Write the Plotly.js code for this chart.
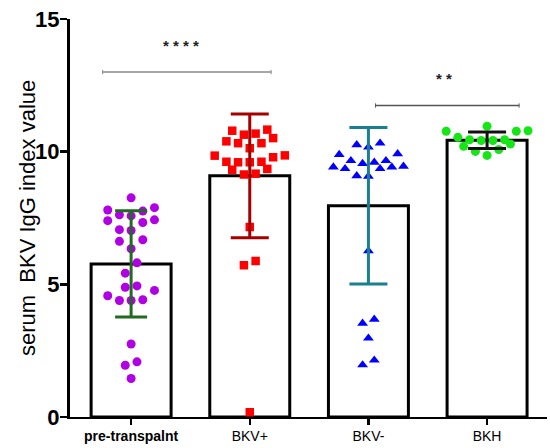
<!DOCTYPE html>
<html>
<head>
<meta charset="utf-8">
<script src="https://cdn.plot.ly/plotly-3.0.1.min.js"></script>
<style>
  html, body { margin: 0; padding: 0; background: #fff; }
  #chart { width: 550px; height: 448px; }
</style>
</head>
<body>
<div id="chart"></div>
<script>
// ---------- data ----------
const categories = ['pre-transpalnt', 'BKV+', 'BKV-', 'BKH'];

const preTransplant = [8.26, 7.89, 7.80, 7.76, 7.62, 7.58, 7.43, 7.40, 7.33, 7.06, 7.03,
  6.68, 6.62, 6.34, 5.81, 5.42, 4.94, 4.89, 4.77, 4.57, 4.42, 4.39, 4.39,
  2.75, 2.08, 1.95, 1.45];
const bkvPositive = [10.83, 10.79, 10.68, 10.64, 10.51, 10.39, 10.32, 10.32, 10.13,
  9.86, 9.85, 9.79, 9.62, 9.62, 9.60, 9.60, 9.35, 9.32, 9.17, 9.14,
  7.16, 5.88, 5.72, 0.18];
const bkvNegative = [10.32, 10.26, 10.17, 9.92, 9.89, 9.66, 9.66, 9.60, 9.55, 9.45,
  9.42, 9.42, 9.36, 9.36, 9.09, 9.07, 6.26, 3.68, 3.53, 2.97, 2.14, 1.96];
const bkh = [10.96, 10.79, 10.77, 10.77, 10.54, 10.45, 10.45, 10.42, 10.42,
  10.29, 10.20, 10.08, 10.01, 9.86];

const barMeans = [5.77, 9.09, 7.96, 10.43];
const barSD = [2.00, 2.33, 2.95, 0.31];

const comparisons = [
  { from: 0, to: 1, label: '* * * *' },
  { from: 2, to: 3, label: '* *' }
];
const comparisonHeights = [13.0, 11.74];

// ---------- styling ----------
const FONT = 'Liberation Sans, Arial, Helvetica, sans-serif';
const groups = [
  { values: preTransplant, symbol: 'circle', size: 9, color: '#b000e4', err: '#1f6b1f', cap: 16 },
  { values: bkvPositive, symbol: 'square', size: 8.5, color: '#ff0000', err: '#a30000', cap: 19 },
  { values: bkvNegative, symbol: 'triangle-up', size: 9.5, color: '#0000ff', err: '#1a7f8f', cap: 19 },
  { values: bkh, symbol: 'circle', size: 9, color: '#16e616', err: '#111111', cap: 19 }
];
// bracket end offsets (category units) relative to the compared groups
const bracketPad = [[-0.24, 0.18], [0.06, 0.27]];
const starShift = [-0.08, 0.14];

// GraphPad-like row arrangement of the dots (computed, not typed)
function swarm(values, center, pitch, binH) {
  const idx = values.map((v, i) => i).sort((a, b) => values[a] - values[b]);
  const xs = new Array(values.length);
  let row = [];
  const slots = n => {
    const out = [];
    if (n % 2 === 1) {
      out.push(0);
      for (let k = 1; out.length < n; k++) { out.push(-k); if (out.length < n) out.push(k); }
    } else {
      for (let k = 0; out.length < n; k++) { out.push(-(k + 0.5)); out.push(k + 0.5); }
    }
    return out;
  };
  const flush = () => {
    const s = slots(row.length);
    row.forEach((i, k) => { xs[i] = center + s[k] * pitch; });
    row = [];
  };
  idx.forEach(i => {
    if (row.length && values[i] - values[row[0]] > binH) flush();
    row.push(i);
  });
  flush();
  return xs;
}

const xIdx = categories.map((c, i) => i);
const traces = [];

traces.push({
  type: 'bar',
  x: xIdx,
  y: barMeans,
  width: 0.674,
  marker: { color: '#ffffff', line: { color: '#000000', width: 3 } },
  hoverinfo: 'skip',
  showlegend: false
});

groups.forEach((g, gi) => {
  traces.push({
    type: 'scatter',
    mode: 'markers',
    x: swarm(g.values, gi, 0.0985, 0.45),
    y: g.values,
    marker: { symbol: g.symbol, size: g.size, color: g.color, line: { width: 0 } },
    showlegend: false,
    hoverinfo: 'y'
  });
});

groups.forEach((g, gi) => {
  traces.push({
    type: 'scatter',
    mode: 'markers',
    x: [gi],
    y: [barMeans[gi]],
    marker: { size: 1, color: 'rgba(0,0,0,0)' },
    error_y: { type: 'data', array: [barSD[gi]], visible: true, color: g.err, thickness: 3, width: g.cap },
    showlegend: false,
    hoverinfo: 'skip'
  });
});

const shapes = [];
const annotations = [];
const lineColors = ['#8a8a8a', '#555555'];
comparisons.forEach((c, i) => {
  const x0 = c.from + bracketPad[i][0], x1 = c.to + bracketPad[i][1];
  const y = comparisonHeights[i];
  shapes.push({ type: 'line', xref: 'x', yref: 'y', x0: x0, x1: x1, y0: y, y1: y,
    line: { color: lineColors[i], width: 1.5 } });
  [x0, x1].forEach(xe => shapes.push({ type: 'line', xref: 'x', yref: 'y', x0: xe, x1: xe,
    y0: y - 0.08, y1: y + 0.08, line: { color: lineColors[i], width: 1 } }));
  annotations.push({ xref: 'x', yref: 'y', x: (c.from + c.to) / 2 + starShift[i], y: y + 1.0,
    text: '<b>' + c.label + '</b>', showarrow: false, font: { family: FONT, size: 15, color: '#222222' } });
});

annotations.push({
  xref: 'paper', yref: 'paper', x: -0.09, y: 0.5, xanchor: 'center', yanchor: 'middle',
  text: 'serum  BKV IgG index value', textangle: -90, showarrow: false,
  font: { family: FONT, size: 22, color: '#000000' }
});

const layout = {
  width: 550,
  height: 448,
  margin: { l: 70, r: 3, t: 19, b: 31 },
  paper_bgcolor: '#ffffff',
  plot_bgcolor: '#ffffff',
  showlegend: false,
  xaxis: {
    range: [-0.515, 3.505],
    tickmode: 'array',
    tickvals: xIdx,
    ticktext: categories.map((c, i) => i === 0 ? '<b>' + c + '</b>' : c),
    ticks: 'outside', ticklen: 6, tickwidth: 2.5, tickcolor: '#000',
    showline: true, linecolor: '#000', linewidth: 1.5,
    showgrid: false, zeroline: false,
    tickfont: { family: FONT, size: 14, color: '#000' },
    fixedrange: true
  },
  yaxis: {
    range: [0, 15],
    tickmode: 'array',
    tickvals: [0, 5, 10, 15],
    ticktext: ['<b>0</b>', '<b>5</b>', '<b>10</b>', '<b>15</b>'],
    ticks: 'outside', ticklen: 7, tickwidth: 2.5, tickcolor: '#000',
    ticklabelstandoff: -4,
    showline: true, linecolor: '#000', linewidth: 3,
    showgrid: false, zeroline: false,
    tickfont: { family: FONT, size: 22, color: '#000' },
    fixedrange: true
  },
  shapes: shapes,
  annotations: annotations
};

Plotly.newPlot('chart', traces, layout, { displayModeBar: false, staticPlot: true });
</script>
</body>
</html>
